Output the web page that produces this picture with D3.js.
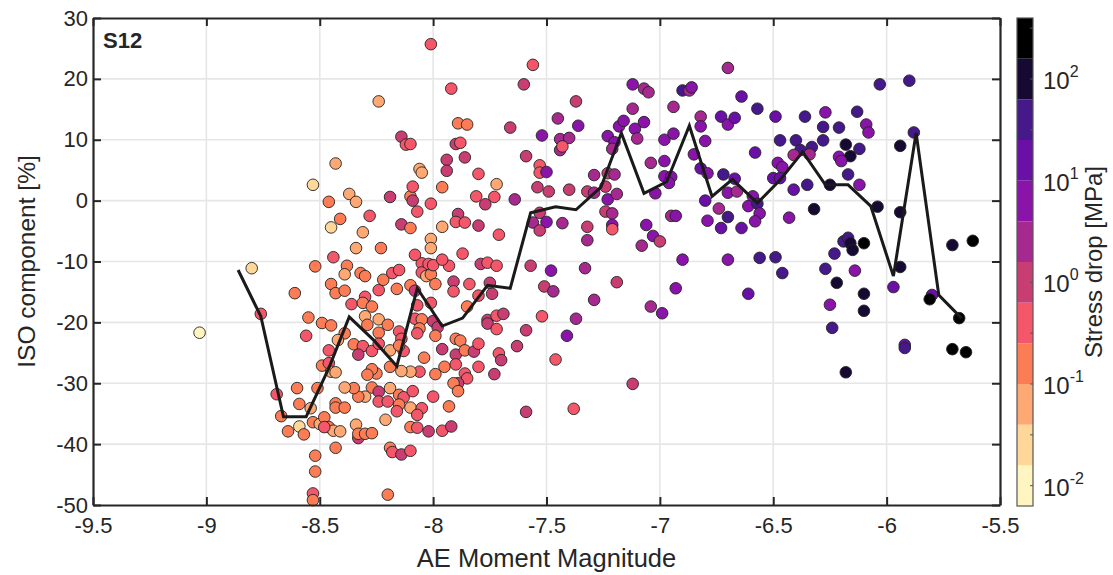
<!DOCTYPE html>
<html>
<head>
<meta charset="utf-8">
<script src="https://cdn.jsdelivr.net/npm/d3@7"></script>
<style>
  body { margin: 0; background: #fff; }
  text { font-family: 'Liberation Sans', Arial, sans-serif; fill: #262626; }
</style>
</head>
<body>
<div id="chart"></div>
<script>
// AE moment magnitude of each event
const magnitude = [
  -9.03,-8.80,-8.76,-8.61,-8.53,-8.43,-8.46,-8.37,-8.34,-8.41,
  -8.45,-8.31,-8.28,-8.34,-8.23,-8.19,-8.14,-8.10,-8.10,-8.09,
  -8.07,-8.09,-8.06,-8.05,-8.01,-7.96,-7.94,-7.94,-7.86,-7.80,
  -7.81,-7.89,-7.90,-7.86,-7.80,-7.96,-8.01,-8.01,-7.87,-7.79,
  -8.44,-8.52,-8.38,-8.39,-8.32,-8.30,-8.45,-8.43,-8.39,-8.36,
  -8.30,-8.31,-8.27,-8.24,-8.16,-8.10,-8.08,-8.05,-8.05,-8.03,
  -8.01,-7.99,-8.07,-8.01,-8.02,-8.00,-7.93,-7.96,-7.91,-7.91,
  -7.84,-7.85,-7.80,-8.55,-8.49,-8.45,-8.56,-8.46,-8.39,-8.42,
  -8.49,-8.46,-8.45,-8.43,-8.35,-8.31,-8.33,-8.30,-8.29,-8.24,
  -8.20,-8.24,-8.27,-8.24,-8.19,-8.15,-8.14,-8.13,-8.15,-8.08,
  -8.05,-8.06,-8.07,-8.00,-7.98,-7.99,-8.04,-7.96,-7.90,-7.88,
  -7.90,-7.86,-7.82,-7.80,-7.80,-7.95,-7.90,-7.86,-7.85,-7.89,
  -7.91,-7.89,-7.93,-7.99,-8.00,-8.06,-8.10,-8.14,-8.19,-8.25,
  -8.27,-8.29,-8.27,-8.19,-8.24,-8.15,-8.13,-8.09,-8.10,-8.15,
  -8.24,-8.20,-8.16,-8.05,-8.07,-8.10,-8.07,-8.02,-7.96,-7.92,
  -8.21,-8.30,-8.33,-8.35,-8.39,-8.43,-8.43,-8.39,-8.51,-8.60,
  -8.59,-8.54,-8.69,-8.67,-8.64,-8.59,-8.57,-8.53,-8.50,-8.48,
  -8.46,-8.44,-8.41,-8.34,-8.33,-8.33,-8.30,-8.27,-8.48,-8.43,
  -8.52,-8.52,-8.53,-8.53,-8.19,-8.18,-8.14,-8.10,-8.20,
  -7.89,-7.85,-7.90,-7.88,-7.72,-7.73,-7.77,-7.71,-7.76,-7.72,
  -7.75,-7.74,-7.76,-7.76,-7.72,-7.69,-7.72,
  -7.56,-7.60,-7.37,-7.45,-7.36,-7.52,-7.44,-7.40,-7.44,-7.43,
  -7.66,-7.59,-7.53,-7.53,-7.50,-7.54,-7.49,-7.40,-7.64,-7.53,
  -7.56,-7.50,-7.53,-7.43,-7.32,-7.29,-7.32,-7.32,-7.57,-7.48,
  -7.51,-7.47,-7.33,-7.52,-7.59,-7.41,-7.37,-7.29,-7.19,-7.23,
  -7.20,-7.24,-7.23,-7.19,-7.29,-7.23,-7.20,-7.21,-7.18,-7.16,
  -7.12,-7.11,-7.10,-7.07,-7.12,-7.07,-7.05,-7.24,-7.21,-7.21,
  -7.21,-7.06,-7.03,-7.00,-7.08,-7.04,-6.99,-6.93,-7.04,-7.02,
  -6.98,-6.98,-6.94,-6.94,-6.98,-6.95,-6.96,-6.95,-6.93,-6.90,
  -6.90,-6.87,-6.86,-6.82,-6.82,-6.70,-6.64,-6.73,-6.70,-6.67,
  -6.80,-6.85,-6.82,-6.79,-6.72,-6.67,-6.70,-6.66,-6.80,-6.74,
  -6.79,-6.70,-6.73,-6.64,-6.70,-6.61,
  -6.57,-6.49,-6.36,-6.27,-6.13,-6.03,-5.90,-6.58,-6.47,-6.40,
  -6.38,-6.33,-6.41,-6.34,-6.28,-6.28,-6.21,-6.18,-6.16,-6.12,
  -6.21,-6.20,-6.09,-6.08,-6.17,-6.12,-6.25,-6.35,-6.41,-6.48,
  -6.46,-6.50,-6.47,-6.59,-6.61,-6.57,-6.56,-6.58,-6.43,-6.32,
  -6.04,-5.94,-5.88,-5.94,-6.56,-6.49,-6.46,-6.19,-6.17,-6.16,
  -6.15,-6.10,-6.23,-6.27,-6.22,-6.14,-6.25,-6.24,-6.10,-6.10,
  -6.18,-5.97,-5.94,-5.92,-5.92,-5.80,-5.81,-5.71,-5.62,-5.71,
  -5.65,-5.68,
  -8.01,-7.92,-8.24,-8.14,-8.12,-8.10,
  -7.63,-7.71,-7.70,-7.73,-7.46,-7.12,-7.59,-7.38,
  -8.22,-8.18,-8.15,-8.08
]

// ISO component [%] of each event
const isoComponent = [
  -21.7,-11.1,-18.6,-15.2,2.6,6.1,-0.2,1.1,-0.2,-3.0,
  -4.4,-5.2,-2.5,-7.8,-7.8,0.6,-3.9,-4.5,0.7,0.0,
  -1.8,2.3,5.2,4.6,-0.5,2.2,6.7,4.9,7.1,4.4,
  0.7,-2.2,-3.5,-3.6,-4.1,-4.3,-6.3,-7.8,-8.7,-10.4,
  -9.3,-10.8,-10.7,-12.1,-11.9,-12.4,-13.7,-15.2,-14.8,-17.0,
  -15.8,-16.8,-17.4,-14.7,-14.5,-13.9,-14.8,-10.3,-11.8,-12.4,
  -12.1,-13.7,-17.2,-16.8,-10.4,-10.6,-10.7,-9.7,-13.3,-14.9,
  -13.7,-17.4,-15.6,-19.2,-20.1,-20.5,-22.2,-24.6,-21.8,-22.9,
  -27.1,-26.7,-28.1,-28.2,-23.6,-23.9,-25.3,-19.0,-20.4,-19.5,
  -20.4,-21.7,-24.7,-23.5,-24.6,-21.5,-22.7,-24.7,-23.8,-19.4,
  -19.5,-21.0,-21.8,-19.8,-20.8,-22.2,-25.8,-24.4,-22.7,-23.0,
  -25.3,-24.6,-24.8,-23.5,-27.3,-27.3,-26.9,-28.4,-29.2,-30.0,
  -30.0,-31.3,-33.8,-28.5,-32.2,-28.1,-28.1,-28.0,-27.3,-28.4,
  -27.7,-28.6,-30.7,-30.8,-31.4,-31.9,-32.3,-31.3,-34.0,-33.5,
  -33.0,-33.0,-34.6,-34.1,-35.2,-37.2,-37.3,-37.9,-37.8,-37.1,
  -36.0,-32.2,-32.2,-30.8,-30.7,-33.3,-34.0,-34.0,-30.8,-30.8,
  -33.4,-34.1,-31.8,-35.4,-37.9,-37.1,-38.4,-36.4,-36.7,-35.6,
  -37.2,-37.8,-37.9,-36.8,-39.0,-38.3,-38.3,-38.2,-37.2,-40.6,
  -41.9,-44.5,-48.1,-49.2,-40.6,-41.3,-41.7,-41.1,-48.3,
  12.7,12.5,9.3,9.5,2.7,0.6,-0.6,-5.6,-10.2,-10.7,
  -13.5,-15.3,-19.6,-20.2,-18.9,-18.6,-21.1,
  22.3,19.1,16.3,13.5,12.3,10.7,10.1,10.3,8.3,8.9,
  12.0,7.3,5.8,4.6,4.7,2.2,1.5,1.8,0.2,-2.0,
  -3.6,-3.5,-4.9,-3.7,1.5,4.2,-4.3,-6.5,-10.7,-11.5,
  -14.1,-14.9,-11.1,-19.0,-21.3,-22.2,-19.4,-16.3,-13.4,4.5,
  4.3,2.3,0.2,1.1,1.3,10.6,9.6,8.5,12.2,13.1,
  15.1,11.8,10.2,12.9,19.1,18.4,17.8,-1.8,-2.1,-4.0,
  -4.7,-4.0,-5.8,-6.7,-7.4,-17.4,-18.5,-14.4,6.2,1.2,
  6.5,10.0,11.0,15.4,4.0,3.9,2.9,-2.5,-2.5,-9.7,
  18.1,18.1,18.6,13.8,12.2,21.8,17.1,13.8,12.5,13.6,
  9.8,7.6,5.3,4.5,4.3,3.6,1.3,1.5,0.0,-1.3,
  -3.3,-2.7,-4.5,-4.5,-9.7,-15.3,
  15.1,13.8,13.8,14.5,14.6,19.1,19.7,7.9,9.9,9.9,
  8.3,8.8,7.5,7.6,12.1,9.9,12.0,9.2,7.3,8.5,
  7.2,6.5,12.5,11.2,4.3,2.6,2.6,2.6,1.8,6.2,
  5.5,3.7,3.7,0.7,-0.9,-0.5,-2.1,-3.4,-2.8,-1.4,
  -1.0,9.0,11.2,-1.9,-9.4,-9.3,-11.9,-6.7,-6.1,-7.0,
  -8.1,-7.0,-8.7,-11.2,-13.5,-11.5,-17.1,-20.9,-15.3,-18.1,
  -28.2,-14.2,-10.9,-23.7,-24.2,-15.5,-16.2,-7.3,-6.6,-24.4,
  -24.9,-19.3,
  25.7,18.4,16.3,10.5,9.2,9.3,
  -23.9,-25.1,-26.2,-28.5,-26.1,-30.1,-34.7,-34.2,
  -13.0,-11.9,-11.4,-8.9
]

// stress drop [MPa] of each event
const stressDrop = [
  .01,.025,.4,.16,.025,.063,.16,.063,.063,.16,
  .025,.063,.4,.063,.16,1,1,.16,.16,1,
  .4,.4,.063,.063,.4,.16,1,1,1,.4,
  .4,1,.4,.4,1,.063,.063,.063,.4,1,
  .4,.16,.16,.063,.16,.16,.16,.16,.16,.4,
  .4,.16,.16,.4,.16,.16,1,.4,.4,.063,
  .16,.16,.4,.4,.4,.4,.4,.4,1,.4,
  .4,.16,.4,.16,.16,.16,.4,.4,.16,.063,
  .16,.4,.063,.063,.16,.4,1,.063,.16,.063,
  .16,.16,.4,.4,.063,.4,.4,.4,.16,.4,
  .16,.16,.4,1,1,.16,.16,1,.16,.16,
  1,.16,1,.4,.4,.16,.4,.4,.4,1,
  .16,.16,.16,.16,.4,.4,.063,.063,.16,.16,
  .16,.16,.16,.063,1,.16,.4,.4,.063,.16,
  .4,.4,.4,.4,.4,.16,.4,1,.4,1,
  .063,.063,.16,.16,.063,.16,.16,.16,.16,.16,
  .16,.063,.4,.16,.16,.025,.16,.16,.063,.16,
  .16,.063,.063,.063,1,.16,.16,.16,.4,.16,
  .16,.16,.4,.16,.16,.4,1,.4,.16,
  .16,.16,1,.4,.063,.4,1,.4,.4,.4,
  1,1,1,1,.4,1,.4,
  .4,1,1,2.5,6.3,6.3,2.5,2.5,2.5,.4,
  1,1,.4,.4,6.3,1,1,1,2.5,1,
  2.5,6.3,1,2.5,1,2.5,1,2.5,1,6.3,
  1,2.5,2.5,.4,1,6.3,2.5,2.5,1,1,
  2.5,1,6.3,2.5,2.5,6.3,6.3,2.5,6.3,6.3,
  2.5,6.3,2.5,6.3,6.3,2.5,2.5,1,2.5,6.3,
  .4,6.3,6.3,1,2.5,2.5,6.3,6.3,2.5,6.3,
  6.3,6.3,6.3,2.5,6.3,6.3,6.3,2.5,6.3,6.3,
  40,2.5,6.3,2.5,6.3,2.5,16,16,6.3,16,
  6.3,6.3,16,6.3,40,16,6.3,2.5,16,2.5,
  6.3,40,16,16,6.3,16,
  40,16,40,6.3,40,40,40,16,40,40,
  40,40,2.5,2.5,40,40,40,100,100,40,
  6.3,6.3,6.3,6.3,40,6.3,100,40,16,6.3,
  6.3,16,16,6.3,6.3,40,6.3,6.3,6.3,100,
  100,100,40,100,40,40,40,40,40,100,
  100,250,40,40,100,6.3,6.3,40,100,100,
  100,16,100,16,40,16,250,100,250,250,
  250,250,
  .4,.4,.063,1,.4,.4,
  1,.4,1,1,.4,1,1,.4,
  .16,.4,.4,.4
]

// binned median curve
const medianMagnitude = [
  -8.86,-8.76,-8.66,-8.56,-8.46,-8.37,-8.26,-8.16,-8.07,-7.96,-7.87,
  -7.76,-7.66,-7.57,-7.46,-7.37,-7.26,-7.17,-7.07,-6.97,-6.87,-6.77,
  -6.68,-6.57,-6.47,-6.37,-6.27,-6.17,-6.07,-5.97,-5.87,-5.77,-5.67
]
const medianIso = [
  -11.4,-19.0,-35.5,-35.5,-27.5,-19.1,-23.0,-27.2,-14.4,-20.6,-19.3,
  -13.9,-14.4,-2.0,-1.0,-1.5,2.2,11.1,1.2,3.1,12.3,0.7,
  3.5,-0.4,3.4,8.0,2.6,2.6,-0.9,-12.4,11.1,-15.5,-19.3
]

const xTicks = [-9.5, -9, -8.5, -8, -7.5, -7, -6.5, -6, -5.5]
const yTicks = [-50, -40, -30, -20, -10, 0, 10, 20, 30]
const colorbarDecades = [-2, -1, 0, 1, 2]
const bandColors = [
  '#fff5c0', '#ffd799', '#fea873', '#fc7c55', '#f5576a', '#c83d72',
  '#a6298f', '#8a14aa', '#6a10a7', '#46198a', '#160a33', '#000000'
]

const margin = { top: 18, right: 113, bottom: 70, left: 93 }
const width = 1113 - margin.left - margin.right
const height = 575 - margin.top - margin.bottom

const root = d3
  .select('#chart')
  .append('svg')
  .attr('width', 1113)
  .attr('height', 575)

const svg = root
  .append('g')
  .attr('transform', 'translate(' + margin.left + ',' + margin.top + ')')

const xPositionScale = d3.scaleLinear().domain([-9.5, -5.5]).range([0, width])
const yPositionScale = d3.scaleLinear().domain([-50, 30]).range([height, 0])

const logMin = -2.2
const logMax = 2.6
const colorScale = d3.scaleQuantize().domain([logMin, logMax]).range(bandColors)

// grid
svg
  .append('g')
  .selectAll('line')
  .data(xTicks.slice(1, -1))
  .enter()
  .append('line')
  .attr('x1', d => xPositionScale(d))
  .attr('x2', d => xPositionScale(d))
  .attr('y1', 0)
  .attr('y2', height)
  .attr('stroke', '#e6e6e6')
  .attr('stroke-width', 1.6)

svg
  .append('g')
  .selectAll('line')
  .data(yTicks.slice(1, -1))
  .enter()
  .append('line')
  .attr('x1', 0)
  .attr('x2', width)
  .attr('y1', d => yPositionScale(d))
  .attr('y2', d => yPositionScale(d))
  .attr('stroke', '#e6e6e6')
  .attr('stroke-width', 1.6)

// events
svg
  .append('g')
  .selectAll('circle')
  .data(d3.range(magnitude.length))
  .enter()
  .append('circle')
  .attr('cx', i => xPositionScale(magnitude[i]))
  .attr('cy', i => yPositionScale(isoComponent[i]))
  .attr('r', 5.8)
  .attr('fill', i => colorScale(Math.log10(stressDrop[i])))
  .attr('stroke', '#222')
  .attr('stroke-width', 0.9)

// median line
const line = d3
  .line()
  .x(i => xPositionScale(medianMagnitude[i]))
  .y(i => yPositionScale(medianIso[i]))

svg
  .append('path')
  .datum(d3.range(medianMagnitude.length))
  .attr('d', line)
  .attr('fill', 'none')
  .attr('stroke', '#1a1a1a')
  .attr('stroke-width', 3)
  .attr('stroke-linejoin', 'miter')

// axes
const fmt = d => String(d)

const xAxis = d3.axisBottom(xPositionScale).tickValues(xTicks).tickSize(-8).tickSizeOuter(0).tickPadding(12).tickFormat(fmt)
const yAxis = d3.axisLeft(yPositionScale).tickValues(yTicks).tickSize(-8).tickSizeOuter(0).tickPadding(5).tickFormat(fmt)
const topAxis = d3.axisTop(xPositionScale).tickValues(xTicks).tickSize(-8).tickSizeOuter(0).tickFormat('')
const rightAxis = d3.axisRight(yPositionScale).tickValues(yTicks).tickSize(-8).tickSizeOuter(0).tickFormat('')

svg.append('g').attr('class', 'axis').attr('transform', 'translate(0,' + height + ')').call(xAxis)
svg.append('g').attr('class', 'axis').call(yAxis)
svg.append('g').attr('class', 'axis').call(topAxis)
svg.append('g').attr('class', 'axis').attr('transform', 'translate(' + width + ',0)').call(rightAxis)

svg.selectAll('.axis .domain').attr('stroke', '#262626').attr('stroke-width', 2.2)
svg.selectAll('.axis .tick line').attr('stroke', '#262626').attr('stroke-width', 2)
svg
  .selectAll('.axis text')
  .attr('font-size', 22)
  .attr('font-family', "'Liberation Sans', Arial, sans-serif")
  .attr('fill', '#262626')

svg
  .append('text')
  .text('S12')
  .attr('x', 10)
  .attr('y', 30)
  .attr('font-size', 22)
  .attr('font-weight', 'bold')

svg
  .append('text')
  .text('AE Moment Magnitude')
  .attr('x', width / 2)
  .attr('y', height + 62)
  .attr('text-anchor', 'middle')
  .attr('font-size', 25.5)

svg
  .append('text')
  .text('ISO component [%]')
  .attr('transform', 'translate(-58,' + height / 2 + ') rotate(-90)')
  .attr('text-anchor', 'middle')
  .attr('font-size', 24.5)

// colorbar
const cbX = 1017
const cbW = 16
const cbScale = d3.scaleLinear().domain([logMin, logMax]).range([506, 18])
const cb = root.append('g')

cb
  .selectAll('rect')
  .data(d3.range(bandColors.length))
  .enter()
  .append('rect')
  .attr('x', cbX)
  .attr('width', cbW)
  .attr('y', i => cbScale(logMin + (i + 1) * 0.4))
  .attr('height', i => cbScale(logMin + i * 0.4) - cbScale(logMin + (i + 1) * 0.4))
  .attr('fill', (i) => bandColors[i])

cb
  .append('rect')
  .attr('x', cbX)
  .attr('y', cbScale(logMax))
  .attr('width', cbW)
  .attr('height', cbScale(logMin) - cbScale(logMax))
  .attr('fill', 'none')
  .attr('stroke', '#555')
  .attr('stroke-width', 1.2)

cb
  .selectAll('.cb-tick')
  .data(d3.range(-2, 2.51, 0.5))
  .enter()
  .append('line')
  .attr('class', 'cb-tick')
  .attr('x1', cbX + cbW - 3)
  .attr('x2', cbX + cbW)
  .attr('y1', d => cbScale(d))
  .attr('y2', d => cbScale(d))
  .attr('stroke', '#555')
  .attr('stroke-width', 1)

const cbLabels = cb
  .selectAll('.cb-label')
  .data(colorbarDecades)
  .enter()
  .append('text')
  .attr('class', 'cb-label')
  .attr('x', cbX + cbW + 10)
  .attr('y', d => cbScale(d) + 10)
  .attr('font-size', 24)

cbLabels.append('tspan').text('10')
cbLabels
  .append('tspan')
  .text(d => String(d))
  .attr('font-size', 16)
  .attr('dy', -12)

cb
  .append('text')
  .text('Stress drop [MPa]')
  .attr('transform', 'translate(1102,' + cbScale((logMin + logMax) / 2) + ') rotate(-90)')
  .attr('text-anchor', 'middle')
  .attr('font-size', 24)
</script>
</body>
</html>
